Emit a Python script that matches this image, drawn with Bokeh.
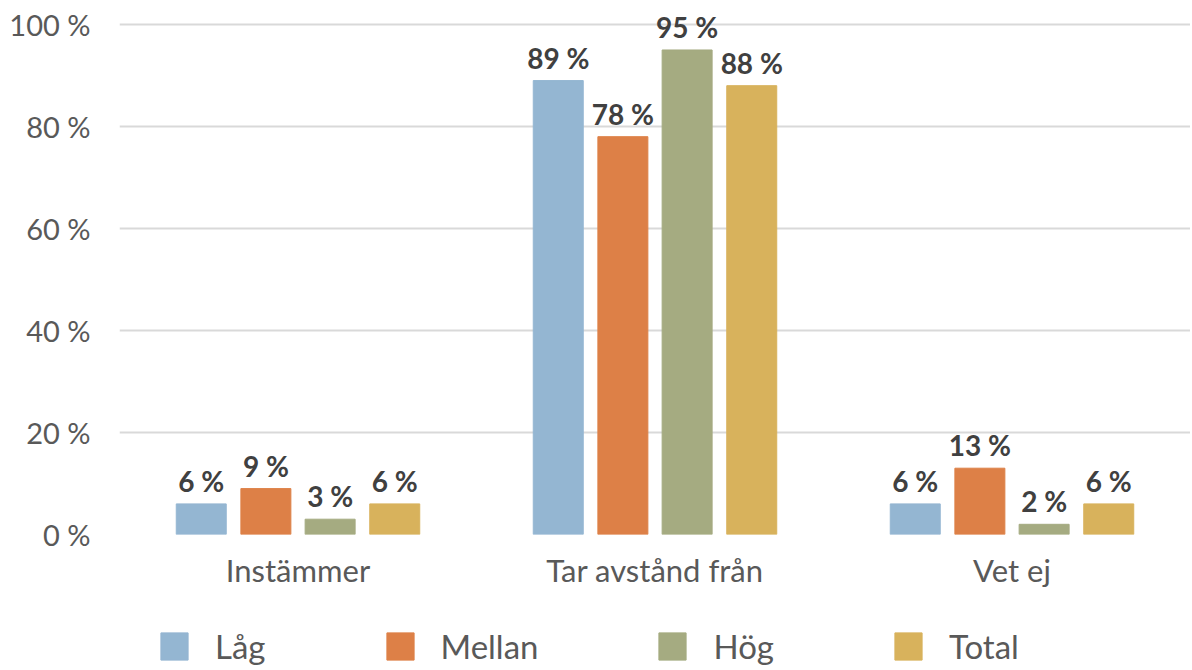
from bokeh.plotting import figure
from bokeh.models import ColumnDataSource, FixedTicker, Legend, LegendItem
from bokeh.layouts import column
from bokeh.transform import dodge
from bokeh.core.properties import value
from bokeh.embed import file_html
from bokeh.resources import INLINE

categories = ["Instämmer", "Tar avstånd från", "Vet ej"]
series = ["Låg", "Mellan", "Hög", "Total"]
lag = [6, 89, 6]
mellan = [9, 78, 13]
hog = [3, 95, 2]
total = [6, 88, 6]
y_ticks = [0, 20, 40, 60, 80, 100]
y_tick_labels = ["0 %", "20 %", "40 %", "60 %", "80 %", "100 %"]

colors = ["#94b6d2", "#dd8047", "#a5ab81", "#d8b25c"]
offsets = [-0.271, -0.09, 0.09, 0.271]
FONT = "Lato"

data = {"cat": categories}
for name, vals in zip(series, [lag, mellan, hog, total]):
    data[name] = vals
    data[name + "_lbl"] = [f"{v} %" for v in vals]
source = ColumnDataSource(data)

fig = figure(x_range=categories, y_range=(0, 104.7),
             frame_width=1071, frame_height=534,
             output_backend="svg", toolbar_location=None,
             min_border_left=119, min_border_right=0, min_border_top=0,
             min_border_bottom=66)
fig.outline_line_color = None
fig.background_fill_color = "white"
fig.border_fill_color = "white"

for name, col, off in zip(series, colors, offsets):
    fig.vbar(x=dodge("cat", off, range=fig.x_range), top=name, width=0.14,
             source=source, fill_color=col, line_color=col)
    fig.text(x=dodge("cat", off, range=fig.x_range), y=name, text=name + "_lbl",
             source=source, text_align="center", text_baseline="bottom",
             y_offset=-6, text_font=value(FONT), text_font_style="bold",
             text_font_size="28px", text_color="#404040")

fig.yaxis.ticker = FixedTicker(ticks=y_ticks)
fig.yaxis.major_label_overrides = {t: l for t, l in zip(y_ticks, y_tick_labels)}
for ax in [fig.xaxis[0], fig.yaxis[0]]:
    ax.axis_line_color = None
    ax.major_tick_line_color = None
    ax.minor_tick_line_color = None
    ax.major_label_text_font = FONT
    ax.major_label_text_color = "#595959"
fig.yaxis.major_label_text_font_size = "29px"
fig.xaxis.major_label_text_font_size = "31px"
fig.yaxis.major_label_standoff = 23
fig.xaxis.major_label_standoff = 10

fig.xgrid.grid_line_color = None
fig.ygrid.grid_line_color = "#d9d9d9"
fig.ygrid.grid_line_width = 2

# legend-only strip below the chart
leg = figure(width=1190, height=70, x_range=(0, 1), y_range=(0, 1),
             output_backend="svg", toolbar_location=None,
             x_axis_location=None, y_axis_location=None,
             min_border=0)
leg.outline_line_color = None
leg.grid.visible = False
items = []
for name, col in zip(series, colors):
    r = leg.vbar(x=[0.5], top=[0], bottom=[0], width=0.0, fill_color=col,
                 line_color=col)
    items.append(LegendItem(label=name, renderers=[r]))
legend = Legend(items=items, orientation="horizontal", location=(38, 4),
                glyph_width=34, glyph_height=34, label_standoff=24,
                spacing=117, padding=0, margin=0,
                border_line_color=None, background_fill_alpha=0,
                label_text_font=FONT, label_text_font_size="33px",
                label_text_color="#595959")
leg.add_layout(legend, "center")

p = column(fig, leg, spacing=0)

open("out.html", "w").write(file_html(p, INLINE))
